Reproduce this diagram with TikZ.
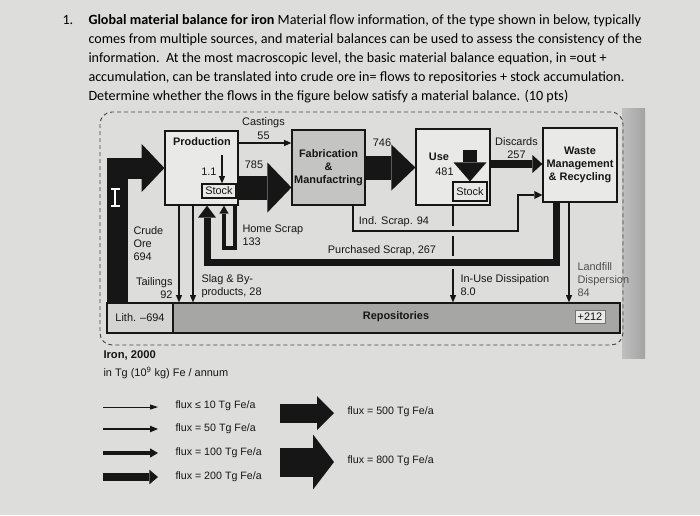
\documentclass[tikz,border=0pt]{standalone}
\usepackage{fontspec}
\setmainfont{Carlito}
\newfontfamily\diafont{Liberation Sans}
\usetikzlibrary{arrows.meta,positioning}

\definecolor{pagebg}{RGB}{221,221,219}
\definecolor{boxfill}{RGB}{233,233,231}
\definecolor{fabfill}{RGB}{196,196,194}
\definecolor{repofill}{RGB}{166,166,164}
\definecolor{lithfill}{RGB}{212,212,210}
\definecolor{inkcol}{RGB}{22,22,22}

\tikzset{every picture/.style={line width=0.75pt}}
\tikzset{
  lbl/.style={font=\diafont\fontsize{8.2}{9.75}\selectfont, inner sep=0pt, text=inkcol},
  boldlbl/.style={lbl, font=\diafont\bfseries\fontsize{8.2}{9.75}\selectfont},
  legendlbl/.style={lbl, anchor=west, font=\diafont\fontsize{8}{9.6}\selectfont},
  procbox/.style={draw=inkcol, line width=0.9pt, fill=boxfill, inner sep=0pt},
  stockbox/.style={lbl, draw=inkcol, line width=0.9pt, fill=boxfill},
  thinflow/.style={draw=inkcol, line width=0.8pt, -{Triangle[width=4.5pt,length=5.5pt]}},
  bigflow/.style n args={3}{draw=inkcol, line width=#1, -{Triangle[width=#2,length=#3,line width=0pt]}},
}

\begin{document}
\begin{tikzpicture}[x=0.75pt,y=0.75pt,yscale=-1,xscale=1]
\useasboundingbox (0,0) rectangle (700,515);
\fill[pagebg] (0,0) rectangle (700,515);

% Question text
\node[anchor=north west, inner sep=0pt, font=\fontsize{10.6}{14.1}\selectfont] (qnum) at (62,14.5) {1.};
\node[anchor=north west, inner sep=0pt, align=left, font=\fontsize{10.6}{14.1}\selectfont] (qtext) at (88,14.5)
  {\textbf{Global material balance for iron} Material flow information, of the type shown in below, typically\\
   comes from multiple sources, and material balances can be used to assess the consistency of the\\
   information.\ \ At the most macroscopic level, the basic material balance equation, in =out +\\
   accumulation, can be translated into crude ore in= flows to repositories + stock accumulation.\\
   Determine whether the flows in the figure below satisfy a material balance. (10 pts)};

% shadow band and dashed frame
\shade[left color=gray!50, right color=gray!72] (622,108) rectangle (645,358);
\draw[inkcol!80, dash pattern=on 3pt off 2.25pt, line width=0.7pt, rounded corners=9pt] (100,112) rectangle (623,345);

% Boxes
\node[procbox, minimum width=54.75pt, minimum height=55.5pt] (prod) at (201.5,168) {};
\node[boldlbl] (prodlbl) at (202,142) {Production};
\node[stockbox, minimum width=25.5pt, minimum height=10.5pt] (pstock) at (219,191) {Stock};
\node[procbox, boldlbl, fill=fabfill, align=center, minimum width=54.75pt, minimum height=56.25pt] (fab) at (328.5,167.5) {Fabrication\\\&\\Manufactring};
\node[procbox, minimum width=55.5pt, minimum height=57pt] (use) at (453,167) {};
\node[boldlbl] (uselbl) at (439,157) {Use};
\node[lbl] (usenum) at (444.5,172) {481};
\node[stockbox, minimum width=25.5pt, minimum height=14.25pt] (ustock) at (470,191.5) {Stock};
\node[procbox, boldlbl, align=center, minimum width=55.5pt, minimum height=55.5pt] (waste) at (580,165) {Waste\\Management\\\& Recycling};
\node[procbox, lbl, fill=lithfill, minimum width=49.5pt, minimum height=22.5pt] (lith) at (140,318) {Lith. –694};
\node[procbox, fill=repofill, minimum width=335.25pt, minimum height=22.5pt] (repo) at (396.5,318) {};
\node[boldlbl] (repolbl) at (396,317) {Repositories};
\node[lbl, fill=boxfill, draw=inkcol!60, line width=0.5pt, inner sep=2pt] (plus) at (590,316.5) {+212};

% Crude ore
\coordinate (oreX) at (117.5,250);
\draw[bigflow={15.75pt}{36pt}{17pt}] (oreX |- lith.north) |- (prod.west);
\fill[white, draw=inkcol, line width=0.5pt] (110,187) -- (120,187) -- (120,190) -- (116.5,190) -- (116.5,204) -- (120,204) -- (120,207) -- (110,207) -- (110,204) -- (113.5,204) -- (113.5,190) -- (110,190) -- cycle;

% Production -> Fabrication
\coordinate (cstY) at (0,143);
\draw[thinflow] (prod.east |- cstY) -- (fab.west |- cstY);
\coordinate (y785) at (0,187.5);
\draw[bigflow={18pt}{37.5pt}{18pt}] (prod.east |- y785) -- (fab.west |- y785);
\coordinate (p11) at (222,155);
\draw[thinflow] (p11) -- (p11 |- pstock.north);

% Fabrication -> Use -> Waste
\draw[bigflow={18pt}{34.5pt}{18pt}] (fab.east) -- (fab.east -| use.west);
\coordinate (ustop) at (470,150);
\draw[bigflow={10.5pt}{24.75pt}{14.25pt}] (ustop) -- (ustop |- ustock.north);
\coordinate (discY) at (0,164);
\draw[bigflow={6pt}{13.5pt}{7.5pt}] (use.east |- discY) -- (waste.west |- discY);

% Scrap loops
\coordinate (indA) at (353,231);
\coordinate (indB) at (518,195);
\draw[draw=inkcol, line width=1.9pt, -{Triangle[width=6pt,length=6pt,line width=0pt]}] (indA |- fab.south) -- (indA) -| (indB) -- (indB -| waste.west);
\coordinate (purA) at (556.5,262.5);
\coordinate (purB) at (207,262.5);
\draw[bigflow={5.25pt}{13.5pt}{9pt}] (purA |- waste.south) -- (purA) -- (purB) -- (purB |- prod.south);
\coordinate (homeA) at (235,248);
\coordinate (homeB) at (224,248);
\draw[bigflow={2.6pt}{7pt}{6pt}] (homeA |- prod.south) -- (homeA) -- (homeB) -- (homeB |- prod.south);

% Flows to repositories
\coordinate (tailX) at (179,250);
\draw[thinflow] (tailX |- prod.south) -- (tailX |- repo.north);
\coordinate (slagX) at (193,250);
\draw[thinflow] (slagX |- prod.south) -- (slagX |- repo.north);
\coordinate (dissA) at (453,226);
\coordinate (dissB) at (453,236);
\coordinate (dissC) at (453,256);
\coordinate (dissD) at (453,269);
\draw[draw=inkcol, line width=0.8pt] (use.south) -- (dissA) (dissB) -- (dissC);
\draw[thinflow] (dissD) -- (dissD |- repo.north);
\coordinate (landX) at (569,250);
\draw[thinflow] (landX |- waste.south) -- (landX |- repo.north);

% Text Node
\node[lbl] (castlbl) at (263.5,123) {Castings};
\node[lbl] (castnum) at (263.5,136) {55};
\node[lbl] (lbl785) at (254,165) {785};
\node[lbl, anchor=east] (lbl11) at (217,172) {1.1};
\node[lbl] (lbl746) at (382,143) {746};
\node[lbl, align=center] (disclbl) at (516.5,148) {Discards\\257};
\node[lbl] (indlbl) at (394,222) {Ind. Scrap. 94};
\node[lbl, anchor=west, align=left] (homelbl) at (242,235.5) {Home Scrap\\133};
\node[lbl] (purlbl) at (382,251) {Purchased Scrap, 267};
\node[lbl, anchor=west, align=left] (orelbl) at (133,243.5) {Crude\\Ore\\694};
\node[lbl, anchor=east, align=right] (taillbl) at (173,288) {Tailings\\92};
\node[lbl, anchor=west, align=left] (slaglbl) at (201,286) {Slag \& By-\\products, 28};
\node[lbl, anchor=west, align=left] (disslbl) at (460,285) {In-Use Dissipation\\8.0};
\node[lbl, anchor=west, align=left, text=inkcol!75] (landlbl) at (577,280) {Landfill\\Dispersion\\84};

% Legend
\node[lbl, anchor=west, font=\diafont\bfseries\fontsize{8.4}{10}\selectfont] (legtitle) at (103,355) {Iron, 2000};
\node[lbl, anchor=west, font=\diafont\fontsize{8.2}{10}\selectfont] (legunit) at (103,373) {in Tg (10\textsuperscript{9} kg) Fe / annum};
\node[legendlbl] (leg10) at (175,406) {flux ≤ 10 Tg Fe/a};
\node[legendlbl] (leg50) at (175,429) {flux = 50 Tg Fe/a};
\node[legendlbl] (leg100) at (175,453) {flux = 100 Tg Fe/a};
\node[legendlbl] (leg200) at (175,477) {flux = 200 Tg Fe/a};
\node[legendlbl] (leg500) at (347,412) {flux = 500 Tg Fe/a};
\node[legendlbl] (leg800) at (347,461) {flux = 800 Tg Fe/a};
\coordinate (la1) at (103,407);
\coordinate (la2) at (103,429);
\coordinate (la3) at (103,453);
\coordinate (la4) at (103,477);
\coordinate (laEnd) at (158,0);
\coordinate (lb1) at (280,413);
\coordinate (lb2) at (280,462);
\coordinate (lbEnd) at (334,0);
\draw[draw=inkcol, line width=0.6pt, -{Triangle[width=4pt,length=6pt,line width=0pt]}] (la1) -- (la1 -| laEnd);
\draw[draw=inkcol, line width=1pt, -{Triangle[width=5pt,length=6pt,line width=0pt]}] (la2) -- (la2 -| laEnd);
\draw[bigflow={3pt}{7pt}{6pt}] (la3) -- (la3 -| laEnd);
\draw[bigflow={6pt}{11pt}{6.5pt}] (la4) -- (la4 -| laEnd);
\draw[bigflow={14.25pt}{25.5pt}{12.75pt}] (lb1) -- (lb1 -| lbEnd);
\draw[bigflow={21.75pt}{41.25pt}{15.75pt}] (lb2) -- (lb2 -| lbEnd);

\end{tikzpicture}
\end{document}
